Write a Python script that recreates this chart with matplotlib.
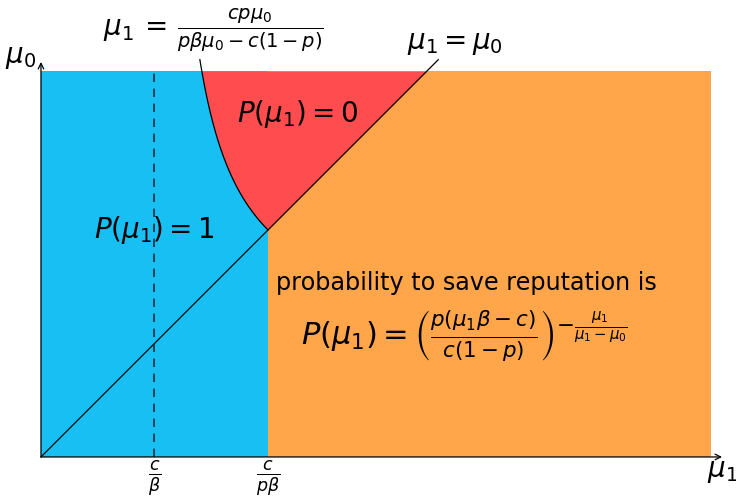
import numpy as np
import matplotlib.pyplot as plt

plt.rcParams['mathtext.fontset'] = 'dejavusans'

# model parameters (c / beta = 1, p = 0.5)
c = 1.0
beta = 1.0
p = 0.5

x_max = 5.9      # end of shaded area on mu1 axis
y_max = 3.4      # end of shaded area on mu0 axis
line_end = 3.5   # where the mu1 = mu0 line and the boundary curve stop

blue = '#18bff2'
red = '#ff4d4f'
orange = '#ffa64b'

fig = plt.figure(figsize=(7.36, 5.01), dpi=100)
ax = fig.add_axes([0, 0, 1, 1])
ax.set_xlim(-0.361, 6.123)
ax.set_ylim(-0.388, 4.026)
ax.axis('off')

x1 = c / beta          # c / beta
x2 = c / (p * beta)    # c / (p beta)

# regions
ax.fill_between([0, x2], 0, y_max, color=blue, lw=0)
ax.fill_between([x2, x_max], 0, y_max, color=orange, lw=0)

# red region: between curve and diagonal, above mu0 = x2
mu0 = np.linspace(x2, y_max, 200)
curve_mu1 = c * p * mu0 / (p * beta * mu0 - c * (1 - p))
ax.fill_betweenx(mu0, curve_mu1, mu0, color=red, lw=0)

# boundary curve
mu0_c = np.linspace(x2, line_end, 200)
ax.plot(c * p * mu0_c / (p * beta * mu0_c - c * (1 - p)), mu0_c, color='black', lw=0.9)

# diagonal mu1 = mu0
ax.plot([0, line_end], [0, line_end], color='black', lw=0.9)

# dashed line at c/beta
ax.plot([x1, x1], [0, y_max], color='#1a2a3a', lw=1.2, ls=(0, (5, 4)))

# axes with arrows
ax.annotate('', xy=(6.0, 0), xytext=(0, 0),
            arrowprops=dict(arrowstyle='->', lw=0.9, color='black', shrinkA=0, shrinkB=0))
ax.annotate('', xy=(0, 3.48), xytext=(0, 0),
            arrowprops=dict(arrowstyle='->', lw=0.9, color='black', shrinkA=0, shrinkB=0))

# texts
ax.text(-0.04, 3.52, r'$\mu_0$', fontsize=20, ha='right', va='center')
ax.text(6.0, -0.12, r'$\mu_1$', fontsize=20, ha='center', va='center')
ax.text(x1, -0.185, r'$\frac{c}{\beta}$', fontsize=18, ha='center', va='center')
ax.text(x2, -0.185, r'$\frac{c}{p\beta}$', fontsize=18, ha='center', va='center')

ax.text(1.52, 3.76, r'$\mu_1\,=\,\frac{cp\mu_0}{p\beta\mu_0 - c(1-p)}$', fontsize=20,
        ha='center', va='center')
ax.text(3.65, 3.65, r'$\mu_1 = \mu_0$', fontsize=20, ha='center', va='center')

ax.text(2.26, 3.02, r'$P(\mu_1) = 0$', fontsize=20, ha='center', va='center')
ax.text(1.0, 2.0, r'$P(\mu_1) = 1$', fontsize=20, ha='center', va='center')
ax.text(3.75, 1.53, 'probability to save reputation is', fontsize=17.2, ha='center', va='center')
ax.text(3.73, 1.06,
        r'$P(\mu_1) = \left(\frac{p(\mu_1\beta - c)}{c(1-p)}\right)^{-\frac{\mu_1}{\mu_1-\mu_0}}$',
        fontsize=22, ha='center', va='center')

fig.savefig('out.png', dpi=100)
